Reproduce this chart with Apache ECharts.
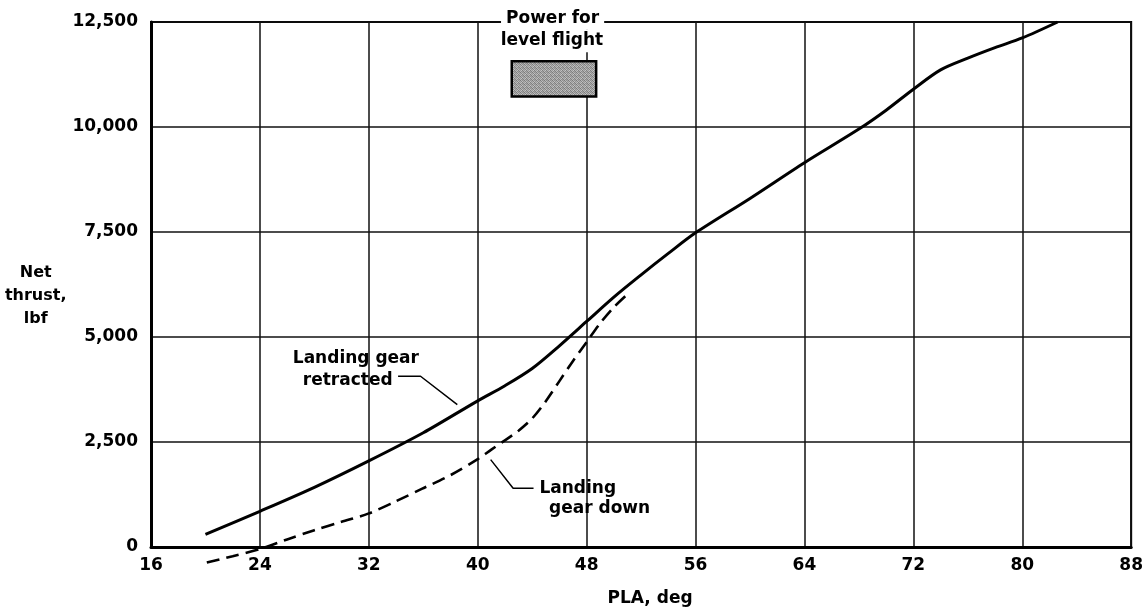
<!DOCTYPE html>
<html>
<head>
<meta charset="utf-8">
<script src="https://cdn.jsdelivr.net/npm/echarts@6/dist/echarts.min.js"></script>
<style>
html,body{margin:0;padding:0;background:#fff;}
#chart{width:1146px;height:612px;}
</style>
</head>
<body>
<div id="chart"></div>
<script>
// ---- data ----
const gearRetracted = [
  [20,300],[24,850],[28,1420],[32,2050],[36,2720],[40,3480],[42,3840],[44,4250],
  [46,4790],[48,5370],[50,5950],[52,6480],[54,6990],[56,7480],[60,8300],
  [64,9150],[68,9950],[70,10400],[72,10900],[74,11360],[76,11640],[78,11890],
  [80,12120],[82.6,12500]
];
const gearDown = [
  [20.1,-370],[22,-220],[24,-50],[26,180],[28,400],[30,600],[32,800],[34,1090],
  [36,1400],[38,1710],[40,2090],[41,2320],[42,2540],[43,2770],[44,3060],[45,3470],
  [46,3950],[47,4430],[48,4880],[49,5330],[50,5710],[51.1,6050]
];
const xTicks = ['16','24','32','40','48','56','64','72','80','88'];
const yTicks = ['0','2,500','5,000','7,500','10,000','12,500'];
const levelFlightBox = [[42.5,11565],[48.7,10725]];
const leaderRetracted = [[34.15,4065],[35.8,4065],[38.5,3390]];
const leaderDown = [[40.95,2080],[42.6,1400],[44.1,1400]];
const notes = [
  {value:[45.5,12593], text:'Power for', bg:true},
  {value:[45.45,12056], text:'level flight', bg:true},
  {value:[31.05,4486], text:'Landing gear'},
  {value:[30.45,3972], text:'retracted'},
  {value:[47.35,1402], text:'Landing'},
  {value:[48.95,911], text:'gear down'}
];

// stippled grey fill (fixed dither pattern)
const pat = document.createElement('canvas');
pat.width = 4; pat.height = 4;
const pctx = pat.getContext('2d');
const shades = ['#7a7a7a','#b8b8b8','#8e8e8e','#a8a8a8',
                '#b0b0b0','#848484','#c0c0c0','#909090',
                '#989898','#c4c4c4','#7e7e7e','#b4b4b4',
                '#bcbcbc','#8a8a8a','#a4a4a4','#808080'];
shades.forEach((c,i) => { pctx.fillStyle = c; pctx.fillRect(i%4, Math.floor(i/4), 1, 1); });

const FONT = 'DejaVu Sans';
const chart = echarts.init(document.getElementById('chart'));
const lblStyle = {fontFamily: FONT, fontWeight: 'bold', fontSize: 17, color: '#000'};

chart.setOption({
  animation: false,
  backgroundColor: '#fff',
  grid: {left: 151, right: 14, top: 22, bottom: 55, show: true, borderColor: '#000', borderWidth: 2},
  xAxis: {
    type: 'value', min: 16, max: 88, interval: 8,
    name: 'PLA, deg', nameLocation: 'middle', nameGap: 43,
    nameTextStyle: Object.assign({}, lblStyle, {padding: [0,0,0,18]}),
    axisLine: {show: true, lineStyle: {color: '#000', width: 3}},
    axisTick: {show: false},
    axisLabel: Object.assign({}, lblStyle, {margin: 10, formatter: v => xTicks[Math.round((v-16)/8)]}),
    splitLine: {show: true, lineStyle: {color: '#111', width: 1.5}}
  },
  yAxis: {
    type: 'value', min: 0, max: 12500, interval: 2500,
    name: '\nNet\nthrust,\nlbf', nameLocation: 'middle', nameGap: 111, nameRotate: 0,
    nameTextStyle: Object.assign({}, lblStyle, {fontSize: 16, lineHeight: 23, align: 'center'}),
    axisLine: {show: true, lineStyle: {color: '#000', width: 3}},
    axisTick: {show: false},
    axisLabel: Object.assign({}, lblStyle, {margin: 13, formatter: v => yTicks[Math.round(v/2500)]}),
    splitLine: {show: true, lineStyle: {color: '#111', width: 1.5}}
  },
  series: [
    {
      name: 'Landing gear retracted', type: 'line', data: gearRetracted,
      smooth: 0.3, symbol: 'none', clip: false,
      lineStyle: {color: '#000', width: 3}
    },
    {
      name: 'Landing gear down', type: 'line', data: gearDown,
      smooth: 0.3, symbol: 'none', clip: false,
      lineStyle: {color: '#000', width: 2.6, type: [13,7]}
    },
    {
      type: 'line', data: leaderRetracted, symbol: 'none', silent: true,
      lineStyle: {color: '#000', width: 1.5}
    },
    {
      type: 'line', data: leaderDown, symbol: 'none', silent: true,
      lineStyle: {color: '#000', width: 1.5}
    },
    {
      type: 'scatter', data: [], silent: true, z: 3,
      markArea: {
        silent: true,
        itemStyle: {color: {image: pat, repeat: 'repeat'}, borderColor: '#000', borderWidth: 2.5, opacity: 1},
        data: [[{coord: levelFlightBox[0]}, {coord: levelFlightBox[1]}]]
      }
    },
    {
      type: 'scatter', silent: true, z: 5, symbolSize: 0, clip: false,
      itemStyle: {opacity: 1},
      data: notes.map(n => ({value: n.value, text: n.text,
        label: n.bg ? {backgroundColor: '#fff', padding: [3,5]} : {}})),
      label: Object.assign({}, lblStyle, {
        show: true, position: 'inside', align: 'center', verticalAlign: 'middle',
        formatter: p => p.data.text
      })
    }
  ]
});
</script>
</body>
</html>
